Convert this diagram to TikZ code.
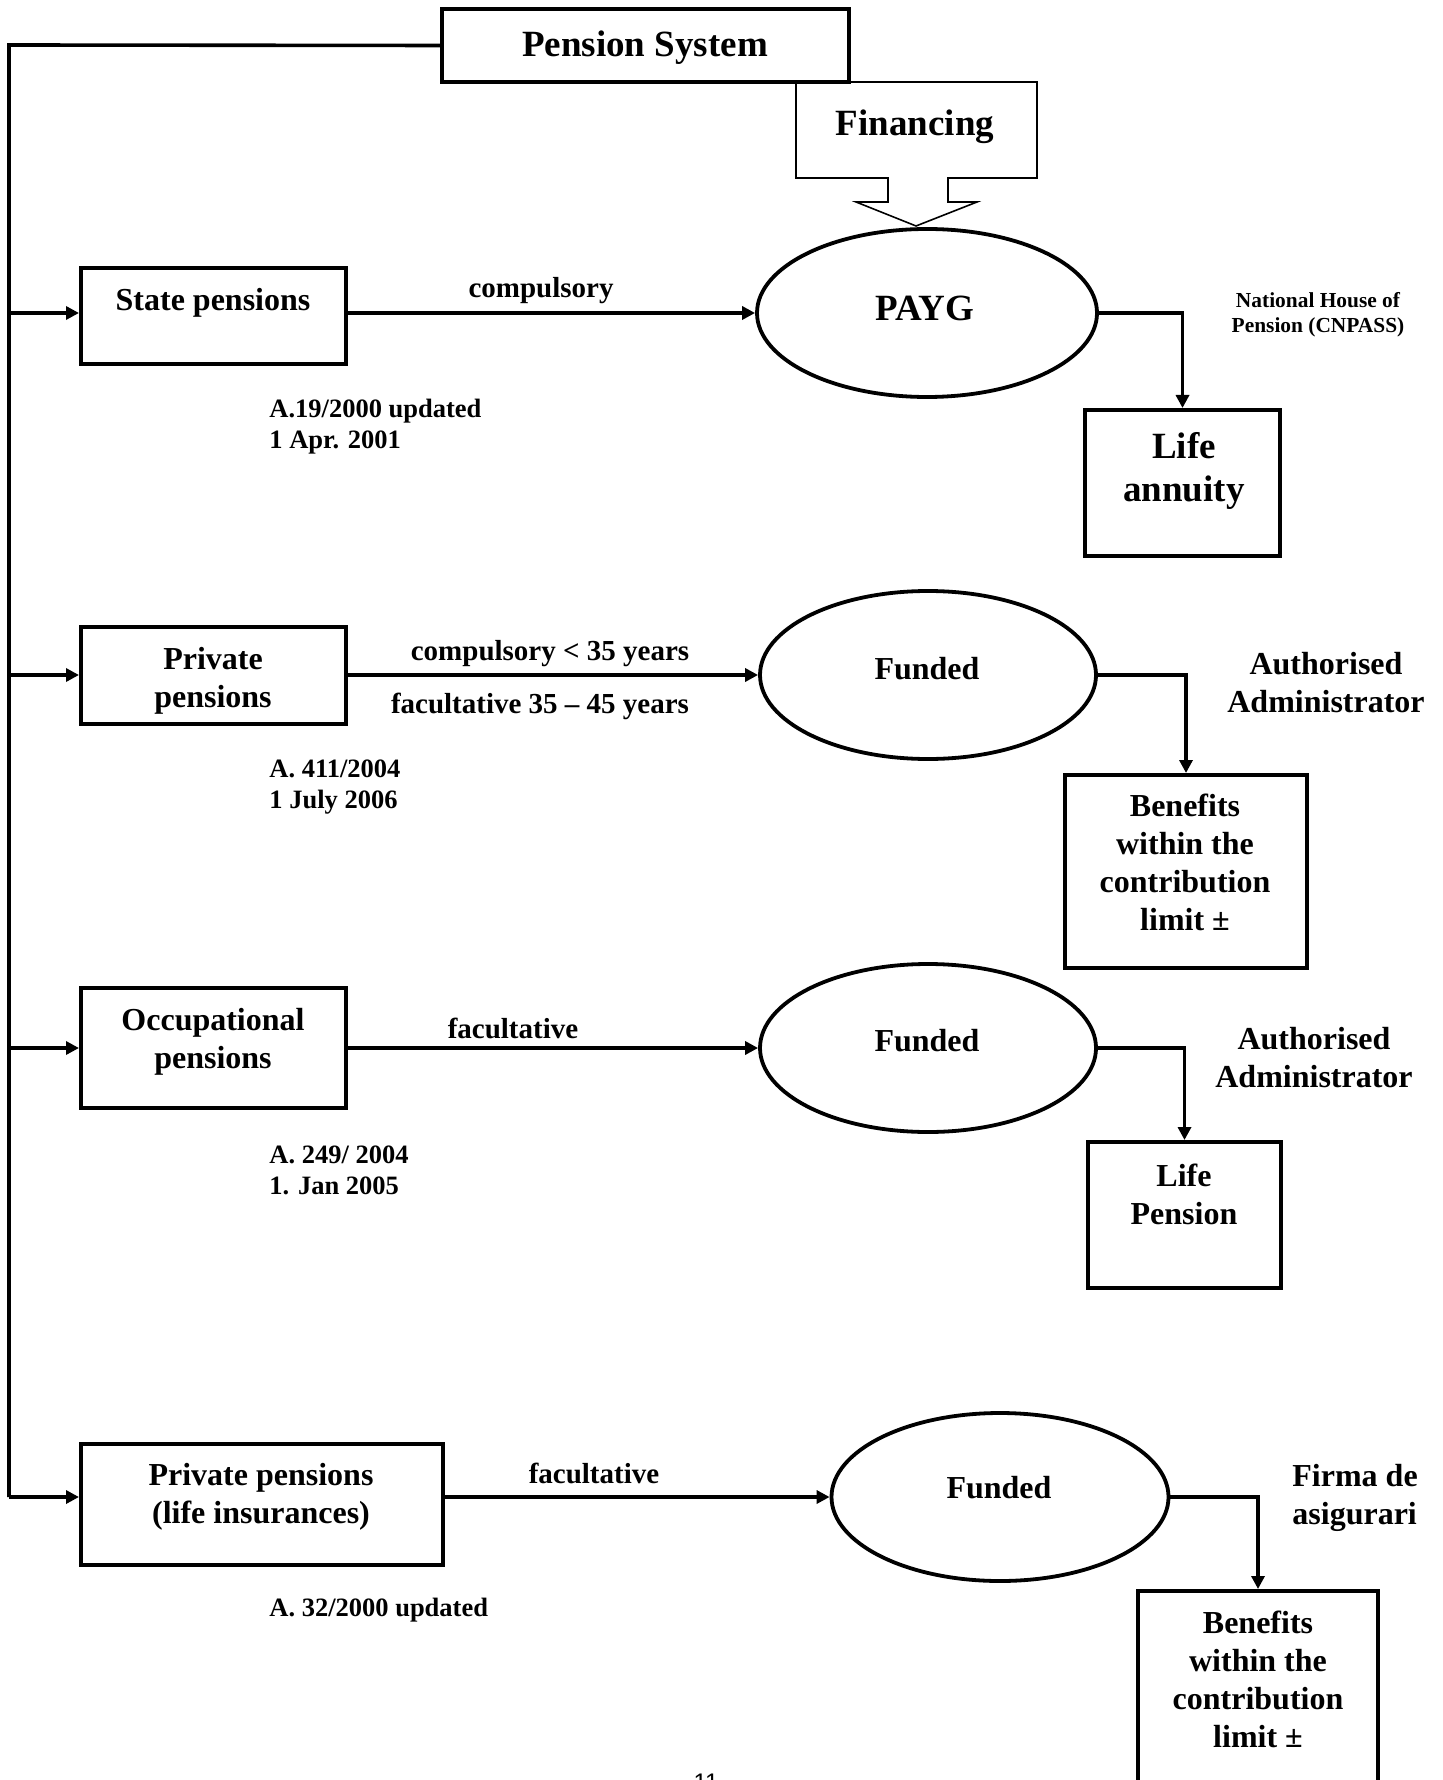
\documentclass[tikz,border=0pt]{standalone}
\usepackage{fontspec}
\setmainfont{Liberation Serif}
\newfontfamily\pagefont{Liberation Sans}
\usetikzlibrary{shapes.geometric,arrows.meta}
\begin{document}
\begin{tikzpicture}[x=0.5pt,y=-0.5pt,
  box/.style={draw,line width=2pt,rectangle,inner sep=0pt},
  oval/.style={draw,line width=1.9pt,ellipse,inner sep=0pt,minimum width=168pt,minimum height=84pt},
  conn/.style={line width=1.8pt},
  arr/.style={line width=1.8pt,-{Triangle[length=6.5pt,width=6.5pt]}},
  bigt/.style={font=\fontsize{18.5}{21.5}\selectfont\bfseries,align=center,inner sep=0pt},
  boxt/.style={font=\fontsize{16}{19}\selectfont\bfseries,align=center,inner sep=0pt},
  lab/.style={font=\fontsize{14.5}{17}\selectfont\bfseries,inner sep=0pt},
  note/.style={font=\fontsize{13.25}{15.5}\selectfont\bfseries,align=left,inner sep=0pt,anchor=west},
  tinyt/.style={font=\fontsize{10.7}{12.5}\selectfont\bfseries,align=center,inner sep=0pt}
]
\useasboundingbox (0,0) rectangle (1442,1780);

% top
\node[box,line width=1.7pt,minimum width=203.5pt,minimum height=36.5pt] (sys) at (645.5,45.5) {};
\node[bigt] (tsys) at (645,48) {Pension System};
\draw[line width=0.8pt] (796,82) -- (1037,82) -- (1037,178) -- (948,178) -- (948,202) -- (977,202)
  -- (916,226) -- (856,202) -- (888,202) -- (888,178) -- (796,178) -- cycle;
\node[bigt] (fin) at (915,127) {Financing};

% trunk
\coordinate (top) at (9,45);
\coordinate (t1) at (9,313);
\coordinate (t2) at (9,675);
\coordinate (t3) at (9,1048);
\coordinate (t4) at (9,1497);
\draw[conn] (sys.west) -- (top) -- (t4);

% left boxes
\node[box,minimum width=132.5pt,minimum height=48pt] (state) at (213.5,316) {};
\node[box,minimum width=132.5pt,minimum height=48.5pt] (priv) at (213.5,675.5) {};
\node[box,minimum width=132.5pt,minimum height=60pt] (occ) at (213.5,1048) {};
\node[box,minimum width=181pt,minimum height=60.5pt] (lins) at (262,1504.5) {};
\node[boxt] (tstate) at (213,303) {State pensions};
\node[boxt] (tpriv) at (213,681) {Private\\pensions};
\node[boxt] (tocc) at (213,1042) {Occupational\\pensions};
\node[boxt] (tlins) at (261,1497) {Private pensions\\(life insurances)};

% ellipses
\node[oval,minimum width=170pt] (payg) at (927,313) {};
\node[oval] (funded1) at (928,675) {};
\node[oval] (funded2) at (928,1048) {};
\node[oval,minimum width=168.5pt] (funded3) at (1000,1497) {};
\node[bigt] (tpayg) at (925,308) {PAYG};
\node[boxt] (tf1) at (927,669) {Funded};
\node[boxt] (tf2) at (927,1041) {Funded};
\node[boxt] (tf3) at (999,1488) {Funded};

% right boxes
\node[box,minimum width=97.5pt,minimum height=73pt] (annuity) at (1182.5,483) {};
\node[box,minimum width=121pt,minimum height=96.5pt] (ben1) at (1186,871.5) {};
\node[box,minimum width=96.5pt,minimum height=73pt] (lifep) at (1184.5,1215) {};
\node[box,minimum width=120pt,minimum height=120pt] (ben2) at (1258,1711) {};
\node[bigt] (tann) at (1184,471) {Life\\annuity};
\node[boxt] (tben1) at (1185,862) {Benefits\\within the\\contribution\\limit ±};
\node[boxt] (tlifep) at (1184,1194) {Life\\Pension};
\node[boxt] (tben2) at (1258,1679) {Benefits\\within the\\contribution\\limit ±};

% connectors
\draw[arr] (t1) -- (state.west |- t1);
\draw[arr] (t2) -- (priv.west |- t2);
\draw[arr] (t3) -- (occ.west |- t3);
\draw[arr] (t4) -- (lins.west |- t4);
\draw[arr] (state.east |- payg.west) -- (payg.west);
\draw[arr] (priv.east |- funded1.west) -- (funded1.west);
\draw[arr] (occ.east |- funded2.west) -- (funded2.west);
\draw[arr] (lins.east |- funded3.west) -- (funded3.west);
\draw[arr] (payg.east) -| (annuity.north);
\draw[arr] (funded1.east) -| (ben1.north);
\draw[arr] (funded2.east) -| (lifep.north);
\draw[arr] (funded3.east) -| (ben2.north);

% labels
\node[lab] (l1) at (541,291) {compulsory};
\node[lab] (l2) at (550,654) {compulsory < 35 years};
\node[lab] (l3) at (540,706) {facultative 35 – 45 years};
\node[lab] (l4) at (513,1028) {facultative};
\node[lab] (l5) at (594,1473) {facultative};
\node[tinyt] (cnpass) at (1318,315) {National House of\\Pension (CNPASS)};
\node[boxt] (auth1) at (1326,683) {Authorised\\Administrator};
\node[boxt] (auth2) at (1314,1058) {Authorised\\Administrator};
\node[boxt,align=left,anchor=west] (firma) at (1292,1498) {Firma de\\asigurari};

% notes
\node[note] (n1) at (269,427) {A.19/2000 updated\\1 Apr. 2001};
\node[note] (n2) at (269,787) {A. 411/2004\\1 July 2006};
\node[note] (n3) at (269,1170) {A. 249/ 2004\\1. Jan 2005};
\node[note] (n4) at (269,1610) {A. 32/2000 updated};

% page number
\node[font=\pagefont\fontsize{12}{14}\selectfont,anchor=base,inner sep=0pt] (pg) at (706,1790) {11};
\end{tikzpicture}
\end{document}
